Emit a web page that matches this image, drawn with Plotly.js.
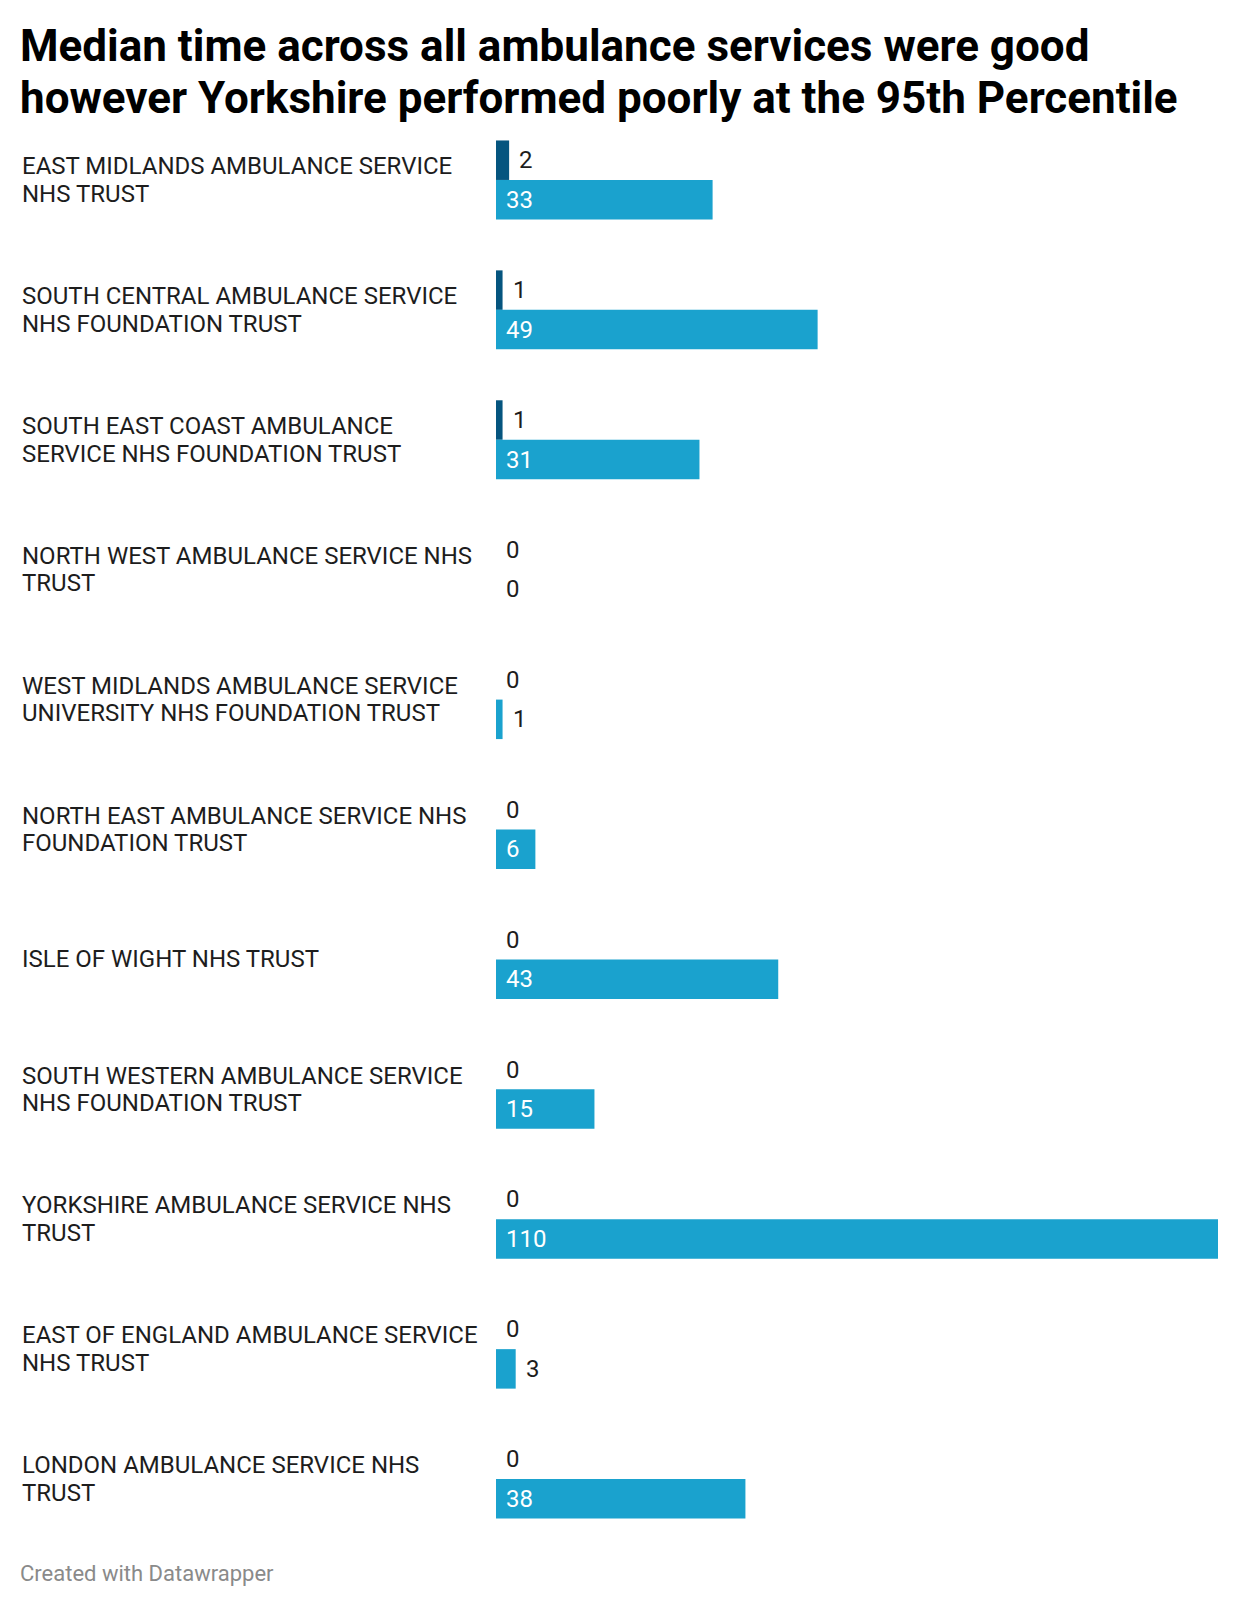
<!DOCTYPE html>
<html>
<head>
<meta charset="utf-8">
<script src="https://cdn.plot.ly/plotly-3.0.1.min.js"></script>
<style>
  html, body { margin: 0; padding: 0; background: #ffffff; }
  #chart { width: 1240px; height: 1606px; }
</style>
</head>
<body>
<div id="chart"></div>
<script>
// ---- data ----
const categories = [
  "EAST MIDLANDS AMBULANCE SERVICE NHS TRUST",
  "SOUTH CENTRAL AMBULANCE SERVICE NHS FOUNDATION TRUST",
  "SOUTH EAST COAST AMBULANCE SERVICE NHS FOUNDATION TRUST",
  "NORTH WEST AMBULANCE SERVICE NHS TRUST",
  "WEST MIDLANDS AMBULANCE SERVICE UNIVERSITY NHS FOUNDATION TRUST",
  "NORTH EAST AMBULANCE SERVICE NHS FOUNDATION TRUST",
  "ISLE OF WIGHT NHS TRUST",
  "SOUTH WESTERN AMBULANCE SERVICE NHS FOUNDATION TRUST",
  "YORKSHIRE AMBULANCE SERVICE NHS TRUST",
  "EAST OF ENGLAND AMBULANCE SERVICE NHS TRUST",
  "LONDON AMBULANCE SERVICE NHS TRUST"
];
const categoryLabels = [
  "EAST MIDLANDS AMBULANCE SERVICE<br>NHS TRUST",
  "SOUTH CENTRAL AMBULANCE SERVICE<br>NHS FOUNDATION TRUST",
  "SOUTH EAST COAST AMBULANCE<br>SERVICE NHS FOUNDATION TRUST",
  "NORTH WEST AMBULANCE SERVICE NHS<br>TRUST",
  "WEST MIDLANDS AMBULANCE SERVICE<br>UNIVERSITY NHS FOUNDATION TRUST",
  "NORTH EAST AMBULANCE SERVICE NHS<br>FOUNDATION TRUST",
  "ISLE OF WIGHT NHS TRUST",
  "SOUTH WESTERN AMBULANCE SERVICE<br>NHS FOUNDATION TRUST",
  "YORKSHIRE AMBULANCE SERVICE NHS<br>TRUST",
  "EAST OF ENGLAND AMBULANCE SERVICE<br>NHS TRUST",
  "LONDON AMBULANCE SERVICE NHS<br>TRUST"
];
const medianValues = [2, 1, 1, 0, 0, 0, 0, 0, 0, 0, 0];
const p95Values    = [33, 49, 31, 0, 1, 6, 43, 15, 110, 3, 38];
const seriesNames  = ["Median", "95th Percentile"];
const titleLines = [
  "Median time across all ambulance services were good",
  "however Yorkshire performed poorly at the 95th Percentile"
];
const footerText = "Created with Datawrapper";

// ---- style ----
const W = 1240, H = 1606;
const M = { l: 496, r: 22, t: 114.5, b: 61.5 };
const DARK = "#05557f", LIGHT = "#1aa2ce";
const FONT = "Roboto, 'Open Sans', sans-serif";
const bargap = 0.392;
const plotW = W - M.l - M.r, plotH = H - M.t - M.b;
const barOff = (1 - bargap) / 4;
const insideMin = 5;
const labelLineHeight = 27.6;
const pyPaper = px => (H - M.b - px) / plotH;   // page-pixel y -> paper y
const pxPaper = px => (px - M.l) / plotW;        // page-pixel x -> paper x

const catIndex = categories.map((_, i) => i);
const traces = [
  { type: "bar", orientation: "h", name: seriesNames[0], y: catIndex, x: medianValues,
    text: categories, marker: { color: DARK }, hoverinfo: "text+x+name", textposition: "none" },
  { type: "bar", orientation: "h", name: seriesNames[1], y: catIndex, x: p95Values,
    text: categories, marker: { color: LIGHT }, hoverinfo: "text+x+name", textposition: "none" }
];

const annotations = [];
categoryLabels.forEach((lbl, i) => {
  const lines = lbl.split("<br>");
  lines.forEach((line, j) => {
    annotations.push({
      xref: "paper", yref: "y", x: pxPaper(20), y: i, xanchor: "left", yanchor: "middle",
      yshift: -(j - (lines.length - 1) / 2) * labelLineHeight,
      align: "left", text: line, showarrow: false,
      font: { family: FONT, size: 24, color: "#1d1d1d" }
    });
  });
});
function valueLabel(v, yPos) {
  const inside = v >= insideMin;
  return {
    xref: "x", yref: "y", x: inside ? 0 : v, y: yPos,
    xanchor: "left", yanchor: "middle", xshift: 8, text: String(v), showarrow: false,
    font: { family: FONT, size: 24, color: inside ? "#ffffff" : "#1d1d1d" }
  };
}
medianValues.forEach((v, i) => annotations.push(valueLabel(v, i - barOff)));
p95Values.forEach((v, i) => annotations.push(valueLabel(v, i + barOff)));

// second title line
annotations.push({
  xref: "paper", yref: "paper", x: pxPaper(18), y: pyPaper(97),
  xanchor: "left", yanchor: "middle", text: titleLines[1], showarrow: false,
  font: { family: FONT, size: 44, color: "#000000", weight: 700 }
});
// footer
annotations.push({
  xref: "paper", yref: "paper", x: pxPaper(18), y: pyPaper(1574),
  xanchor: "left", yanchor: "middle", text: footerText, showarrow: false,
  font: { family: FONT, size: 22, color: "#8a8a8a" }
});

const layout = {
  width: W, height: H,
  margin: M,
  paper_bgcolor: "#ffffff", plot_bgcolor: "#ffffff",
  showlegend: false,
  barmode: "group", bargap: bargap, bargroupgap: 0,
  title: {
    text: titleLines[0], xref: "container", yref: "container",
    x: 20 / W, xanchor: "left", y: 1 - 46 / H, yanchor: "middle",
    font: { family: FONT, size: 44, color: "#000000", weight: 700 }
  },
  xaxis: { range: [0, 110], visible: false, fixedrange: true },
  yaxis: { range: [categories.length - 0.5, -0.5], visible: false, fixedrange: true },
  annotations: annotations
};

Plotly.newPlot("chart", traces, layout, { displayModeBar: false, staticPlot: true });
</script>
</body>
</html>
